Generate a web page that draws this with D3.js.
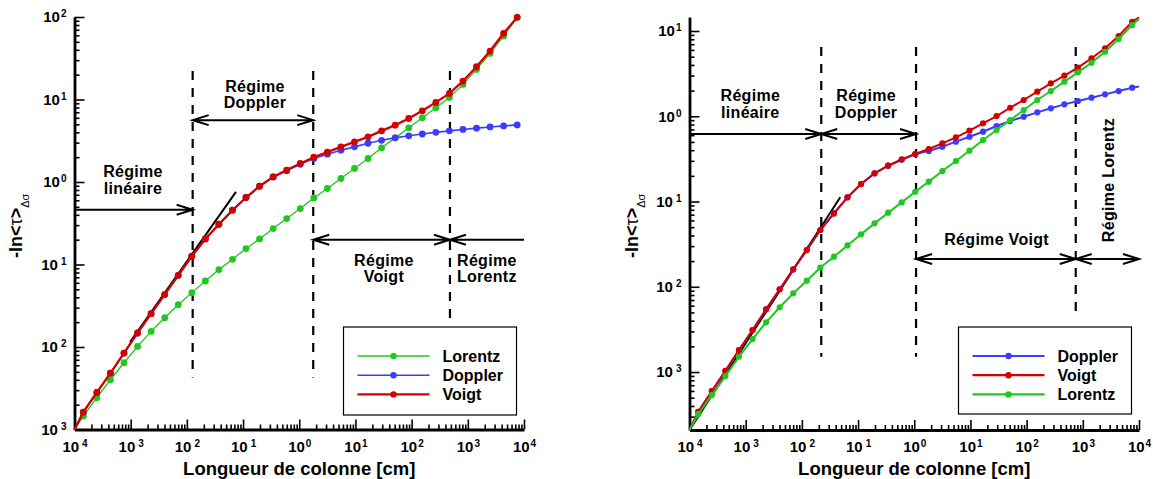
<!DOCTYPE html>
<html><head><meta charset="utf-8">
<script src="https://cdn.jsdelivr.net/npm/d3@7"></script>
<style>
body{margin:0;background:#fff;}
svg text{font-family:"Liberation Sans",Arial,sans-serif;font-weight:bold;fill:#000;}
</style></head><body>
<svg id="c" width="1153" height="479"></svg>
<script>
// ---------- DATA ----------
const xTickExps = [-4,-3,-2,-1,0,1,2,3,4];
const yTickExpsLeft = [2,1,0,-1,-2,-3];
const yTickExpsRight = [1,0,-1,-2,-3];

// column length [cm] (first = axis corner, last of right = axis end)
const xLeft = [1e-4,1.435e-4,2.502e-4,4.36e-4,7.60e-4,1.325e-3,2.309e-3,4.025e-3,7.016e-3,1.223e-2,2.132e-2,3.715e-2,6.476e-2,0.1129,0.1967,0.3429,0.5977,1.042,1.816,3.166,5.517,9.616,16.76,29.22,50.92,88.77,154.7,269.7,470.0,819.3,1428,2489,4338,7561];
const xRight = [1e-4,1.435e-4,2.502e-4,4.36e-4,7.60e-4,1.325e-3,2.309e-3,4.025e-3,7.016e-3,1.223e-2,2.132e-2,3.715e-2,6.476e-2,0.1129,0.1967,0.3429,0.5977,1.042,1.816,3.166,5.517,9.616,16.76,29.22,50.92,88.77,154.7,269.7,470.0,819.3,1428,2489,4338,7561,1e4];

const leftLorentz = [1e-3,1.452e-3,2.427e-3,4.009e-3,6.442e-3,1.016e-2,1.545e-2,2.265e-2,3.258e-2,4.560e-2,6.310e-2,8.670e-2,0.1156,0.1560,0.2042,0.2729,0.3606,0.4764,0.6412,0.8337,1.102,1.459,1.928,2.594,3.428,4.539,5.998,7.925,10.59,15.24,23.17,36.22,58.75,99.08];
const leftDoppler = [1e-3,1.622e-3,2.818e-3,4.819e-3,8.433e-3,1.479e-2,2.535e-2,4.315e-2,7.396e-2,0.1259,0.2042,0.3076,0.4550,0.6486,0.8892,1.153,1.365,1.641,1.928,2.173,2.432,2.667,2.951,3.199,3.428,3.631,3.819,3.999,4.169,4.335,4.498,4.645,4.786,4.920];
const leftVoigt = [1e-3,1.622e-3,2.818e-3,4.819e-3,8.433e-3,1.479e-2,2.535e-2,4.315e-2,7.396e-2,0.1259,0.2042,0.3076,0.4550,0.6486,0.8892,1.153,1.396,1.679,1.995,2.301,2.667,3.069,3.524,4.169,4.887,5.888,7.295,9.226,11.86,16.71,24.95,38.64,63.39,99.08];

const rightDoppler = [2.09e-4,3.420e-4,5.984e-4,1.035e-3,1.811e-3,3.112e-3,5.433e-3,9.333e-3,1.603e-2,2.698e-2,4.634e-2,7.261e-2,0.1119,0.1603,0.2143,0.2630,0.309,0.3606,0.3908,0.4395,0.5035,0.5754,0.6592,0.7691,0.8790,0.9886,1.112,1.239,1.380,1.510,1.652,1.807,1.977,2.163,2.239];
const rightVoigt = [2.09e-4,3.420e-4,5.984e-4,1.035e-3,1.811e-3,3.112e-3,5.433e-3,9.333e-3,1.603e-2,2.698e-2,4.634e-2,7.261e-2,0.1119,0.1603,0.2143,0.2630,0.3126,0.3606,0.4130,0.4819,0.5662,0.6776,0.8260,1.007,1.259,1.552,1.941,2.432,2.992,3.715,4.786,6.266,8.730,12.85,14.5];
const rightLorentz = [2.09e-4,3.214e-4,5.370e-4,8.974e-4,1.514e-3,2.438e-3,3.828e-3,5.754e-3,8.375e-3,1.178e-2,1.679e-2,2.254e-2,3.055e-2,4.121e-2,5.546e-2,7.396e-2,9.772e-2,0.1303,0.1710,0.2280,0.2985,0.3945,0.5260,0.6902,0.9036,1.183,1.552,1.977,2.547,3.273,4.246,5.715,8.054,11.75,13.8];

// linear-regime tangent lines [x, y]
const leftTangent = [[9.73e-4,1.148e-2],[0.0748,0.759]];
const rightTangent = [[1e-4,2.09e-4],[0.0482,0.112]];

// regime boundaries: x, top, bottom
const leftBounds = [[0.01268,22.1,4.28e-3],[1.774,22.1,4.28e-3],[481,22.1,1.83e-2]];
const rightBounds = [[0.02213,6.49,1.51e-3],[1.077,6.49,1.51e-3],[748,6.49,4.67e-3]];

const COL = {Lorentz:"#1ec81e", Doppler:"#3c3cff", Voigt:"#d40000"};

// ---------- DRAW ----------
const svg = d3.select("#c");

function arrow(g, x1, x2, yp, headL, headR){
  const L = 16, W = 5;
  let d = `M${x1},${yp}L${x2},${yp}`;
  if (headL) d += `M${x1+L},${yp-W}L${x1},${yp}L${x1+L},${yp+W}`;
  if (headR) d += `M${x2-L},${yp-W}L${x2},${yp}L${x2-L},${yp+W}`;
  g.append("path").attr("d", d).attr("fill","none").attr("stroke","#000").attr("stroke-width",2);
}

function label(g, lines, xp, yp, rot){
  const t = g.append("text").attr("font-size",16).attr("text-anchor","middle").attr("letter-spacing","0.3px");
  if (rot) t.attr("transform",`translate(${xp},${yp}) rotate(-90)`);
  else t.attr("x", xp).attr("y", yp);
  lines.forEach((s,i)=>{
    t.append("tspan").attr("x", rot?0:xp).attr("dy", i===0?0:16.5).text(s);
  });
}

function expLabel(sel){
  sel.each(function(e){
    const t = d3.select(this);
    t.text(null).attr("font-size",15);
    t.append("tspan").text("10");
    t.append("tspan").attr("font-size",10).attr("dy",-5).attr("dx", e<0?3:1).text(Math.abs(e));
  });
}

function panel(cfg){
  const x = d3.scaleLog().domain([1e-4,1e4]).range(cfg.xr);
  const y = d3.scaleLog().domain(cfg.yd).range(cfg.yr);
  const g = svg.append("g");
  const x0 = x(1e-4), y0 = cfg.yr[0];

  // minor tick positions
  const xMinor = [], yMinor = [];
  for (let d=-5; d<=4; d++) for (let m=2; m<=9; m++){
    const v = m*Math.pow(10,d);
    if (v>1e-4 && v<1e4) xMinor.push(v);
    if (v>cfg.yd[0] && v<cfg.yd[1]) yMinor.push(v);
  }
  const yMajor = cfg.yExps.map(e=>Math.pow(10,e));
  const xMajor = xTickExps.map(e=>Math.pow(10,e));

  // axes
  const ax = g.append("g").attr("transform",`translate(0,${y0})`);
  ax.append("g").call(d3.axisBottom(x).tickValues(xMinor).tickSize(-5).tickSizeOuter(0).tickFormat(""))
    .call(s=>s.select(".domain").remove());
  const axM = ax.append("g").call(d3.axisBottom(x).tickValues(xMajor).tickSize(-10).tickSizeOuter(0).tickFormat(""));
  axM.selectAll(".tick text").data(xTickExps).attr("y",22).attr("dy",0).call(expLabel);

  const ay = g.append("g").attr("transform",`translate(${x0},0)`);
  ay.append("g").call(d3.axisLeft(y).tickValues(yMinor).tickSize(-5).tickSizeOuter(0).tickFormat(""))
    .call(s=>s.select(".domain").remove());
  const ayM = ay.append("g").call(d3.axisLeft(y).tickValues(yMajor).tickSize(-10).tickSizeOuter(0).tickPadding(8).tickFormat(""));
  ayM.selectAll(".tick text").data(cfg.yExps).attr("dy","0.32em").call(expLabel);
  g.selectAll(".tick line").attr("stroke","#000").attr("stroke-width",1.6);
  g.selectAll(".domain").attr("stroke","#000").attr("stroke-width",2.8);
  g.selectAll(".tick text").attr("fill","#000").attr("font-family",null);

  // axis titles
  g.append("text").attr("x",(cfg.xr[0]+cfg.xr[1])/2).attr("y",475).attr("text-anchor","middle")
    .attr("font-size",18.5).text("Longueur de colonne [cm]");
  const yt = g.append("text").attr("transform",`translate(${cfg.ytx},258) rotate(-90)`).attr("font-size",18);
  yt.append("tspan").text("-ln<");
  yt.append("tspan").attr("font-weight","normal").text("τ");
  yt.append("tspan").text(">");
  yt.append("tspan").attr("font-size",11).attr("font-weight","normal").attr("dy",7).text("Δσ");

  // regime boundaries
  cfg.bounds.forEach(b=>{
    g.append("line").attr("x1",x(b[0])).attr("x2",x(b[0])).attr("y1",y(b[1])).attr("y2",y(b[2]))
      .attr("stroke","#000").attr("stroke-width",2.2).attr("stroke-dasharray","9,8");
  });

  // tangent
  g.append("line").attr("x1",x(cfg.tangent[0][0])).attr("y1",y(cfg.tangent[0][1]))
    .attr("x2",x(cfg.tangent[1][0])).attr("y2",y(cfg.tangent[1][1]))
    .attr("stroke","#000").attr("stroke-width",2);

  // series
  const line = d3.line().x(d=>x(d[0])).y(d=>y(d[1]));
  cfg.series.forEach(s=>{
    const pts = cfg.xs.map((v,i)=>[v, s.vals[i]]);
    g.append("path").attr("d", line(pts)).attr("fill","none").attr("stroke",COL[s.name]).attr("stroke-width",s.w);
    g.selectAll(null).data(pts.slice(1,34)).enter().append("circle")
      .attr("cx",d=>x(d[0])).attr("cy",d=>y(d[1])).attr("r",cfg.r).attr("fill",COL[s.name]);
  });

  // annotations
  cfg.annot(g, x, y);

  // legend
  const L = cfg.legend;
  g.append("rect").attr("x",L.x).attr("y",L.y).attr("width",L.w).attr("height",L.h)
    .attr("fill","#fff").attr("stroke","#000").attr("stroke-width",1.2);
  L.order.forEach((n,i)=>{
    const yy = L.y + 29 + i*19.2;
    const s = cfg.series.find(q=>q.name===n);
    g.append("line").attr("x1",L.x+14).attr("x2",L.x+86).attr("y1",yy).attr("y2",yy)
      .attr("stroke",COL[n]).attr("stroke-width",L.lw? L.lw : s.w);
    g.append("circle").attr("cx",L.x+50).attr("cy",yy).attr("r",3.2).attr("fill",COL[n]);
    g.append("text").attr("x",L.x+99).attr("y",yy+6).attr("font-size",16).text(n);
  });
}

panel({
  xr:[74.5,524], yd:[1e-3,100], yr:[429.5,17], yExps:yTickExpsLeft, ytx:22,
  xs:xLeft, r:3.4,
  series:[{name:"Lorentz",vals:leftLorentz,w:1.3},{name:"Doppler",vals:leftDoppler,w:1.6},{name:"Voigt",vals:leftVoigt,w:2.3}],
  tangent:leftTangent, bounds:leftBounds,
  legend:{x:343.5,y:327,w:173,h:88,order:["Lorentz","Doppler","Voigt"]},
  annot:(g,x,y)=>{
    arrow(g, x(1e-4), x(leftBounds[0][0]), y(0.461), false, true);
    arrow(g, x(leftBounds[0][0]), x(leftBounds[1][0]), y(5.62), true, true);
    arrow(g, x(leftBounds[1][0]), x(leftBounds[2][0]), y(0.1995), true, true);
    arrow(g, x(leftBounds[2][0]), x(1e4), y(0.1995), true, false);
    label(g, ["Régime","linéaire"], x(1.10e-3), y(1.144));
    label(g, ["Régime","Doppler"], x(0.163), y(12.4));
    label(g, ["Régime","Voigt"], x(32.1), y(0.0959));
    label(g, ["Régime","Lorentz"], x(2183), y(0.0959));
  }
});

panel({
  xr:[689.5,1139], yd:[2.09e-4,14.6], yr:[430,17], yExps:yTickExpsRight, ytx:638,
  xs:xRight, r:3.1,
  series:[{name:"Doppler",vals:rightDoppler,w:2},{name:"Voigt",vals:rightVoigt,w:2},{name:"Lorentz",vals:rightLorentz,w:2}],
  tangent:rightTangent, bounds:rightBounds,
  legend:{x:958.5,y:327,w:173,h:87,order:["Doppler","Voigt","Lorentz"],lw:2.2},
  annot:(g,x,y)=>{
    arrow(g, x(1e-4), x(rightBounds[0][0]), y(0.619), false, true);
    arrow(g, x(rightBounds[0][0]), x(rightBounds[1][0]), y(0.619), true, true);
    arrow(g, x(rightBounds[1][0]), x(rightBounds[2][0]), y(0.0212), true, true);
    arrow(g, x(rightBounds[2][0]), x(1e4), y(0.0212), true, true);
    label(g, ["Régime","linéaire"], x(1.21e-3), y(1.51));
    label(g, ["Régime","Doppler"], x(0.139), y(1.51));
    label(g, ["Régime Voigt"], x(29.2), y(0.0309));
    label(g, ["Régime Lorentz"], x(3540), y(0.1787), true);
  }
});
</script>
</body></html>
